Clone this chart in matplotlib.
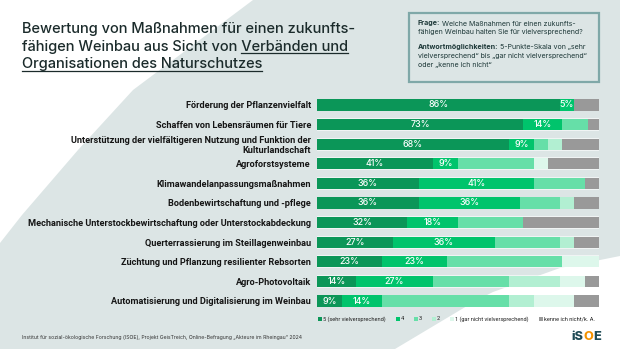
import matplotlib.pyplot as plt
from matplotlib.patches import Polygon, Rectangle
import numpy as np

plt.rcParams['font.family'] = ['Inter', 'DejaVu Sans']

# data (percent of answers), order top -> bottom
categories = [
    'Förderung der Pflanzenvielfalt',
    'Schaffen von Lebensräumen für Tiere',
    'Unterstützung der vielfältigeren Nutzung und Funktion der\nKulturlandschaft',
    'Agroforstsysteme',
    'Klimawandelanpassungsmaßnahmen',
    'Bodenbewirtschaftung und -pflege',
    'Mechanische Unterstockbewirtschaftung oder Unterstockabdeckung',
    'Querterrassierung im Steillagenweinbau',
    'Züchtung und Pflanzung resilienter Rebsorten',
    'Agro-Photovoltaik',
    'Automatisierung und Digitalisierung im Weinbau',
]
sehr = [86, 73, 68, 41, 36, 36, 32, 27, 23, 14, 9]
vier = [5, 14, 9, 9, 41, 36, 18, 36, 23, 27, 14]
drei = [0, 9, 5, 27, 18, 14, 23, 23, 41, 27, 45]
zwei = [0, 0, 5, 0, 0, 5, 0, 5, 0, 18, 9]
eins = [0, 0, 0, 5, 0, 0, 0, 0, 14, 9, 14]
kenne = [9, 5, 14, 18, 5, 9, 27, 9, 0, 5, 9]

series = [sehr, vier, drei, zwei, eins, kenne]
legend_labels = ['5 (sehr vielversprechend)', '4', '3', '2',
                 '1 (gar nicht vielversprechend)', 'kenne ich nicht/k. A.']
colors = ['#0B9658', '#00C46C', '#66DFA8', '#B2EFD2', '#DDF7EB', '#999999']

W, H = 620, 349
fig = plt.figure(figsize=(W / 100, H / 100), dpi=100)
fig.patch.set_facecolor('#DCE5E5')

# background layer in pixel coordinates
bg = fig.add_axes([0, 0, 1, 1])
bg.set_xlim(0, W)
bg.set_ylim(H, 0)
bg.axis('off')
bg.add_patch(Polygon([(0, 0), (253, 0), (133, 90), (78, 150), (22, 215), (0, 243)],
                     closed=True, facecolor='white', edgecolor='none'))
bg.add_patch(Polygon([(395, H), (477, 300), (493, 292), (560, 268), (W, 256), (W, H)],
                     closed=True, facecolor='white', edgecolor='none'))

renderer = fig.canvas.get_renderer()


def right_of(t):
    bb = t.get_window_extent(renderer)
    return bb.x1, bb.x0


# title
tcol = '#1B2B2B'
tsize = 10.5
t1 = bg.text(22, 33, 'Bewertung von Maßnahmen für einen zukunfts-', fontsize=tsize,
             fontweight='medium', color=tcol, va='baseline')
t2 = bg.text(22, 50.5, 'fähigen Weinbau aus Sicht von Verbänden und', fontsize=tsize,
             fontweight='medium', color=tcol, va='baseline')
t3 = bg.text(22, 68, 'Organisationen des Naturschutzes', fontsize=tsize,
             fontweight='medium', color=tcol, va='baseline')
probe = bg.text(0, 0, 'Verbänden und', fontsize=tsize, fontweight='medium', alpha=0)
pw = probe.get_window_extent(renderer).width
x_end2, _ = right_of(t2)
bg.plot([x_end2 - pw, x_end2], [53, 53], color=tcol, lw=0.9)
x_end3, _ = right_of(t3)
bg.plot([22, x_end3], [70.5, 70.5], color=tcol, lw=0.9)

# info box
bg.add_patch(Rectangle((409, 13), 190, 69, facecolor='none', edgecolor='#7FA8A8', lw=1.6))
bcol = '#1D3838'
bs = 5.1
lines = [(25.5, 'Frage:', 'Welche Maßnahmen für einen zukunfts-'),
         (34, '', 'fähigen Weinbau halten Sie für vielversprechend?'),
         (49.5, 'Antwortmöglichkeiten:', '5-Punkte-Skala von „sehr'),
         (58, '', 'vielversprechend“ bis „gar nicht vielversprechend“'),
         (66.5, '', 'oder „kenne ich nicht“')]
for y, bold, rest in lines:
    x = 418
    if bold:
        tb = bg.text(x, y, bold, fontsize=bs, fontweight='bold', color=bcol, va='baseline')
        x = right_of(tb)[0] + 2
    bg.text(x, y, rest, fontsize=bs, color=bcol, va='baseline')

# bars
ax = fig.add_axes([317 / W, 1 - 310.8 / H, 282 / W, 215.6 / H])
ax.set_facecolor('none')
y = np.arange(len(categories))
ax.barh(y, [100] * len(y), height=0.66, color='white', alpha=0.6, zorder=1)
left = np.zeros(len(categories))
for vals, col in zip(series, colors):
    ax.barh(y, vals, left=left, height=0.58, color=col, zorder=2)
    left = left + np.array(vals)
left = np.zeros(len(categories))
for vals in series[:2]:
    for i, v in enumerate(vals):
        if v > 0:
            ax.text(left[i] + v / 2, i, f'{v}%', ha='center', va='center',
                    color='white', fontsize=6.4, fontweight='medium', zorder=3)
    left = left + np.array(vals)

ax.set_xlim(0, 100)
ax.set_ylim(len(categories) - 0.5, -0.5)
ax.set_yticks(y)
ax.set_yticklabels(categories, fontsize=6.6, fontweight='bold', color='#151515',
                   linespacing=1.05, family=['Roboto', 'DejaVu Sans'])
ax.tick_params(axis='y', length=0, pad=4.3)
ax.set_xticks([])
for s in ax.spines.values():
    s.set_visible(False)

# legend
x = 318
ly = 319
for lab, col in zip(legend_labels, colors):
    bg.add_patch(Rectangle((x, ly - 2), 4, 4, facecolor=col, edgecolor='none'))
    tl = bg.text(x + 5, ly, lab, fontsize=4.1, color='#222222', va='center',
                 family=['Roboto', 'DejaVu Sans'])
    x = right_of(tl)[0] + 10

# footer
bg.text(22, 339, 'Institut für sozial-ökologische Forschung (ISOE), Projekt GeisTreich, '
        'Online-Befragung „Akteure im Rheingau“ 2024', fontsize=3.7, color='#333333',
        va='baseline')

# logo
x = 571
for part, col in [('iS', '#1E4A55'), ('O', '#F39200'), ('E', '#1E4A55')]:
    tp = bg.text(x, 340, part, fontsize=9.2, fontweight='heavy', color=col, va='baseline')
    x = right_of(tp)[0]

fig.savefig('out.png', dpi=100, facecolor=fig.get_facecolor())
